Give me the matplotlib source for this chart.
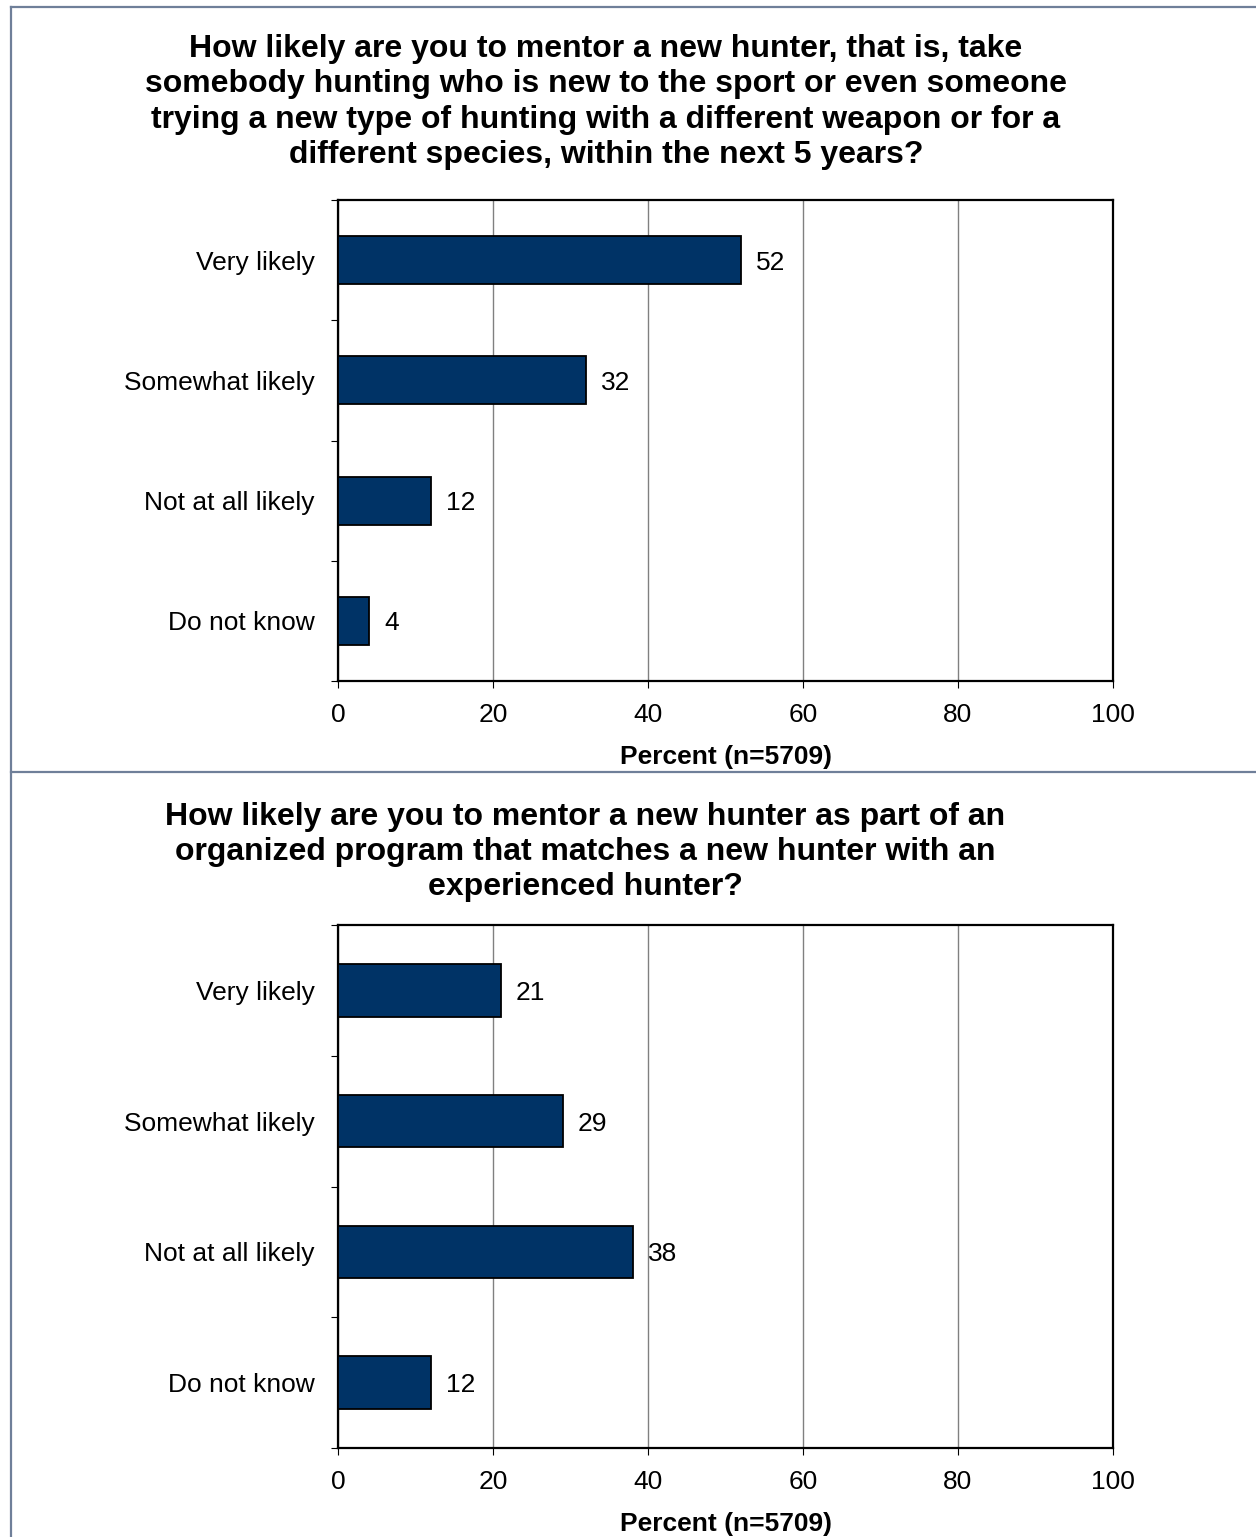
import matplotlib.pyplot as plt
from matplotlib.lines import Line2D
import numpy as np

plt.rcParams["font.family"] = ["Liberation Sans", "DejaVu Sans"]

# ── data ──────────────────────────────────────────────────────
categories = ["Very likely", "Somewhat likely", "Not at all likely", "Do not know"]
mentor_any = [52, 32, 12, 4]
mentor_program = [21, 29, 38, 12]
xticks = [0, 20, 40, 60, 80, 100]
xlabel = "Percent (n=5709)"

title_any = ("How likely are you to mentor a new hunter, that is, take\n"
             "somebody hunting who is new to the sport or even someone\n"
             "trying a new type of hunting with a different weapon or for a\n"
             "different species, within the next 5 years?")
title_program = ("How likely are you to mentor a new hunter as part of an\n"
                 "organized program that matches a new hunter with an\n"
                 "experienced hunter?")

BAR = "#003366"
FRAME = "#6F7F99"
FS = 19

W, H = 1256, 1537
fig = plt.figure(figsize=(W / 100, H / 100), dpi=100, facecolor="white")


def px(x, y):
    """pixel coords (top-left origin) -> figure fraction"""
    return x / W, 1 - y / H


def draw_panel(rect, values):
    ax = fig.add_axes(rect)
    n = len(categories)
    ypos = np.arange(n)
    ax.barh(ypos, values, height=0.4, color=BAR,
            edgecolor="black", linewidth=1.3, zorder=3)
    # value labels, digits centred on the bar
    for yy, v in zip(ypos, values):
        ax.annotate(str(v), xy=(v, yy), xytext=(11, 0),
                    textcoords="offset points", ha="left",
                    va="center_baseline", fontsize=FS, zorder=4)
    ax.set_xlim(0, 100)
    ax.set_ylim(n - 0.5, -0.5)
    ax.set_xticks(xticks)
    ax.set_xticklabels([str(t) for t in xticks], fontsize=FS)
    ax.set_yticks(ypos)
    ax.set_yticklabels(categories, fontsize=FS)
    ax.set_yticks(np.arange(n + 1) - 0.5, minor=True)
    ax.tick_params(axis="y", which="major", length=0, pad=17)
    ax.tick_params(axis="y", which="minor", length=5, width=0.8, direction="out")
    ax.tick_params(axis="x", length=5, width=0.8, direction="out", pad=11)
    ax.grid(axis="x", color="#808080", linewidth=1.0, zorder=0)
    for s in ax.spines.values():
        s.set_linewidth(1.6)
        s.set_color("black")
    ax.set_xlabel(xlabel, fontsize=FS, fontweight="bold", labelpad=13)
    return ax


# top panel
l, b = px(338, 681)
r, t = px(1113, 200)
draw_panel([l, b, r - l, t - b], mentor_any)

# bottom panel
l, b = px(338, 1448)
r, t = px(1113, 925)
draw_panel([l, b, r - l, t - b], mentor_program)

# titles
x, y = px(606, 102)
fig.text(x, y, title_any, ha="center", va="center", fontsize=23,
         fontweight="bold", linespacing=1.24)
x, y = px(585, 852)
fig.text(x, y, title_program, ha="center", va="center", fontsize=23,
         fontweight="bold", linespacing=1.22)

# outer frame and divider
for (x0, y0), (x1, y1) in [((11, 7), (W, 7)), ((11, 7), (11, H)),
                           ((11, 772), (W, 772))]:
    a, c = px(x0, y0)
    d, e = px(x1, y1)
    fig.add_artist(Line2D([a, d], [c, e], color=FRAME, linewidth=1.6,
                          transform=fig.transFigure))

fig.savefig("out.png", dpi=100, facecolor="white")
